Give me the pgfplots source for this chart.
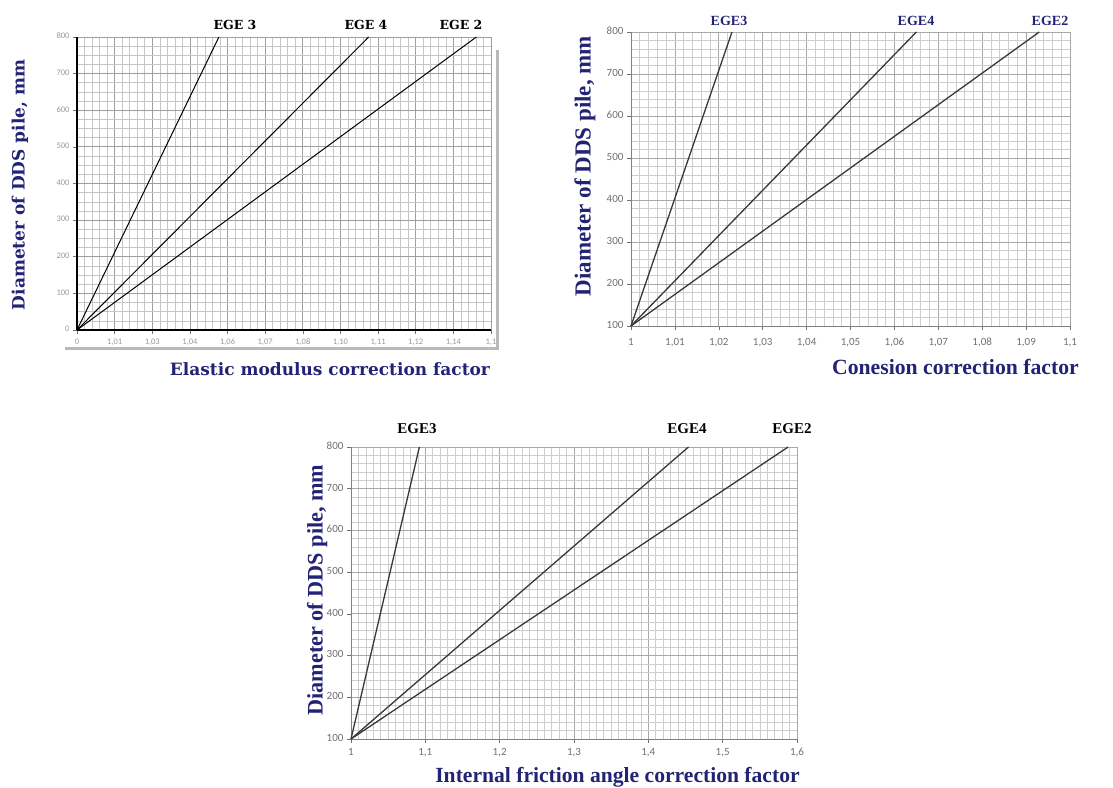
\documentclass[border=0pt]{standalone}
\usepackage{fontspec}
\usepackage{pgfplots}
\pgfplotsset{compat=1.18}
\setmainfont{Liberation Serif}
\newfontfamily\tickfont{Carlito}
\newfontfamily\heavyfont{DejaVu Serif}
\definecolor{navy}{HTML}{232375}
\definecolor{tickgray}{HTML}{707070}
\definecolor{majgrid}{HTML}{A8A8A8}
\definecolor{mingrid}{HTML}{CECECE}
\pgfplotsset{
  common/.style={
    scale only axis, anchor=south west, clip=false,
    axis lines=left, axis line style={-},
    tick align=outside, major tick length=4pt, minor tick length=0pt,
    grid=both,
    major grid style={majgrid, line width=0.8pt},
    minor grid style={mingrid, line width=0.6pt},
    /pgf/number format/assume math mode=true,
    typeset ticklabels with strut,
    tick style={tickgray, line width=0.6pt},
    ticklabel style={text=tickgray},
  },
}
\begin{document}
\begin{tikzpicture}
\useasboundingbox (0pt,0pt) rectangle (1113pt,-787pt);

% ---------- top-left ----------
\draw[gray!55, line width=3pt] (65pt,-348pt) -- (497pt,-348pt) -- (497pt,-50pt);
\begin{axis}[common,
  at={(77pt,-330pt)}, width=414pt, height=293pt,
  xmin=0, xmax=11, ymin=0, ymax=800,
  xtick={0,...,11},
  xticklabels={0,{1,01},{1,03},{1,04},{1,06},{1,07},{1,08},{1,10},{1,11},{1,12},{1,14},{1,1}},
  ytick={0,100,...,800},
  minor x tick num=4, minor y tick num=3,
  axis line style={black, line width=1.8pt},
  major grid style={gray!75, line width=0.8pt},
  minor grid style={gray!45, line width=0.6pt},
  ticklabel style={font=\tickfont\fontsize{8.5}{9}\selectfont, text=gray!80},
  xticklabel style={yshift=-1pt},
  xlabel={Elastic modulus correction factor},
  ylabel={Diameter of DDS pile, mm},
  xlabel style={at={(axis description cs:0.611,-0.133)}, anchor=center,
    font=\heavyfont\bfseries\fontsize{17}{19}\selectfont, text=navy},
  ylabel style={at={(axis description cs:-0.1377,0.495)}, anchor=center, rotate=0,
    font=\heavyfont\bfseries\fontsize{17}{19}\selectfont, text=navy},
]
\addplot[black, line width=1pt] coordinates {(0,0) (3.77,800)};
\addplot[black, line width=1pt] coordinates {(0,0) (7.75,800)};
\addplot[black, line width=1pt] coordinates {(0,0) (10.61,800)};
\end{axis}
\node[font=\heavyfont\bfseries\fontsize{12.5}{14}\selectfont] at (235pt,-25pt) {EGE 3};
\node[font=\heavyfont\bfseries\fontsize{12.5}{14}\selectfont] at (366pt,-25pt) {EGE 4};
\node[font=\heavyfont\bfseries\fontsize{12.5}{14}\selectfont] at (461pt,-25pt) {EGE 2};

% ---------- top-right ----------
\begin{axis}[common,
  at={(631pt,-326pt)}, width=439pt, height=294pt,
  xmin=1, xmax=1.1, ymin=100, ymax=800,
  xtick={1,1.01,1.02,1.03,1.04,1.05,1.06,1.07,1.08,1.09,1.1},
  xticklabels={1,{1,01},{1,02},{1,03},{1,04},{1,05},{1,06},{1,07},{1,08},{1,09},{1,1}},
  ytick={100,200,...,800},
  minor x tick num=4, minor y tick num=4,
  axis line style={gray, line width=1pt},
  ticklabel style={font=\tickfont\fontsize{11}{12}\selectfont},
  xticklabel style={yshift=-4pt},
  xlabel={Conesion correction factor},
  ylabel={Diameter of DDS pile, mm},
  xlabel style={at={(axis description cs:0.739,-0.139)}, anchor=center,
    font=\bfseries\fontsize{21.7}{24}\selectfont, text=navy},
  ylabel style={at={(axis description cs:-0.105,0.544)}, anchor=center,
    font=\bfseries\fontsize{23}{25}\selectfont, text=navy},
]
\addplot[black!78, line width=1.3pt] coordinates {(1,100) (1.023,800)};
\addplot[black!78, line width=1.3pt] coordinates {(1,100) (1.065,800)};
\addplot[black!78, line width=1.3pt] coordinates {(1,100) (1.093,800)};
\end{axis}
\node[font=\bfseries\fontsize{14}{16}\selectfont, text=navy] at (729pt,-20.5pt) {EGE3};
\node[font=\bfseries\fontsize{14}{16}\selectfont, text=navy] at (916pt,-20.5pt) {EGE4};
\node[font=\bfseries\fontsize{14}{16}\selectfont, text=navy] at (1050pt,-20.5pt) {EGE2};

% ---------- bottom ----------
\begin{axis}[common,
  at={(351pt,-739pt)}, width=446pt, height=292pt,
  xmin=1, xmax=1.6, ymin=100, ymax=800,
  xtick={1,1.1,1.2,1.3,1.4,1.5,1.6},
  xticklabels={1,{1,1},{1,2},{1,3},{1,4},{1,5},{1,6}},
  ytick={100,200,...,800},
  minor x tick num=9, minor y tick num=4,
  axis line style={gray, line width=1pt},
  ticklabel style={font=\tickfont\fontsize{11}{12}\selectfont},
  xticklabel style={yshift=-1pt},
  xlabel={Internal friction angle correction factor},
  ylabel={Diameter of DDS pile, mm},
  xlabel style={at={(axis description cs:0.5975,-0.130)}, anchor=center,
    font=\bfseries\fontsize{21.6}{24}\selectfont, text=navy},
  ylabel style={at={(axis description cs:-0.076,0.510)}, anchor=center,
    font=\bfseries\fontsize{22.2}{24}\selectfont, text=navy},
]
\addplot[black!78, line width=1.3pt] coordinates {(1,100) (1.092,800)};
\addplot[black!78, line width=1.3pt] coordinates {(1,100) (1.454,800)};
\addplot[black!78, line width=1.3pt] coordinates {(1,100) (1.588,800)};
\end{axis}
\node[font=\bfseries\fontsize{15}{17}\selectfont] at (417pt,-428.5pt) {EGE3};
\node[font=\bfseries\fontsize{15}{17}\selectfont] at (687pt,-428.5pt) {EGE4};
\node[font=\bfseries\fontsize{15}{17}\selectfont] at (792pt,-428.5pt) {EGE2};
\end{tikzpicture}
\end{document}
